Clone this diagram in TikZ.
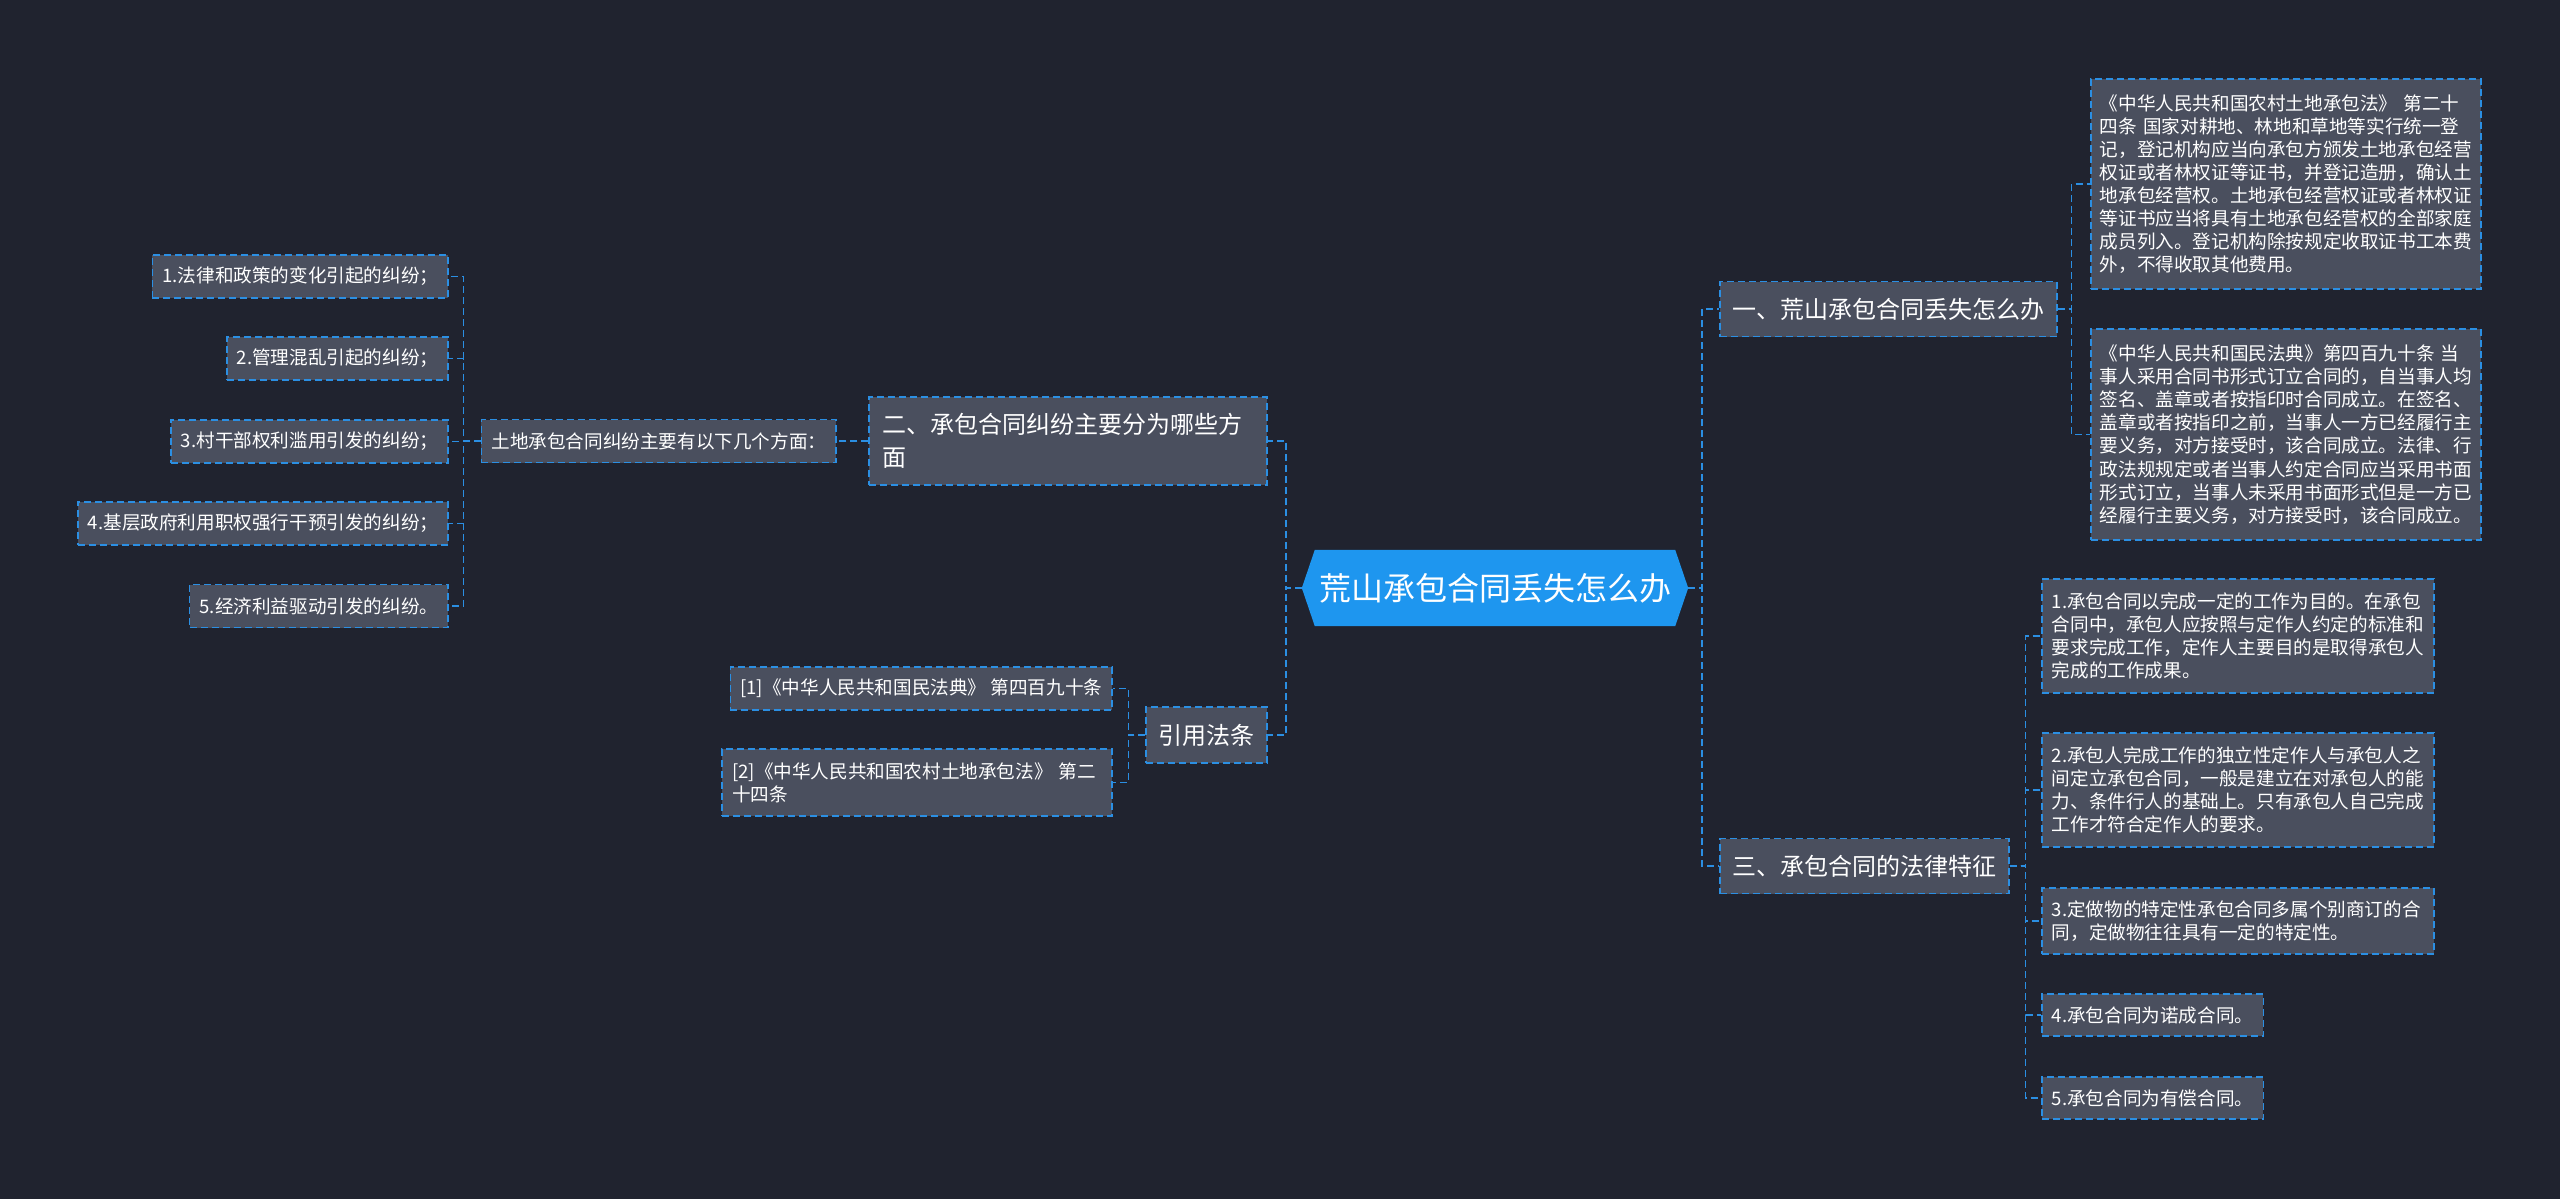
\documentclass[tikz,border=0pt]{standalone}
\usepackage{fontspec}
\setmainfont{Noto Sans CJK SC}
\usetikzlibrary{backgrounds}
\definecolor{bgcol}{HTML}{20232F}
\definecolor{boxcol}{HTML}{4A4F5E}
\definecolor{linecol}{HTML}{2B8FE3}
\definecolor{rootcol}{HTML}{1E96EF}
\newcommand{\fsz}[2]{\fontsize{#1}{#2}\selectfont}
\tikzset{
  link/.style={draw=linecol, line width=1.6pt, dash pattern=on 7pt off 4pt},
  topic/.style={link, fill=boxcol, text=white, font=\fsz{24}{33}, inner xsep=12.5pt, inner ysep=0pt, minimum height=55pt, align=left},
  leaf/.style={link, fill=boxcol, text=white, font=\fsz{18.6}{23.1}, inner xsep=10pt, inner ysep=0pt, minimum height=43pt, align=left},
  root/.style={text=white, font=\fsz{32}{38}, minimum width=386pt, minimum height=76pt, inner sep=0pt},
}
\begin{document}
\begin{tikzpicture}[x=1pt, y=-1pt]
  \useasboundingbox (0,0) rectangle (2560,1199);
  \begin{scope}[on background layer]
    \fill[bgcol] (0,0) rectangle (2560,1199);
  \end{scope}

  \node[root] (root) at (1495,588) {荒山承包合同丢失怎么办};
  \begin{scope}[on background layer]
    \fill[rootcol] (root.west) -- ([xshift=13pt]root.north west) -- ([xshift=-13pt]root.north east)
      -- (root.east) -- ([xshift=-13pt]root.south east) -- ([xshift=13pt]root.south west) -- cycle;
  \end{scope}

  % right side
  \node[topic, anchor=west] (a1) at (1719,309) {一、荒山承包合同丢失怎么办};
  \node[topic, anchor=west] (a3) at (1719,866) {三、承包合同的法律特征};
  \node[leaf, anchor=west, text width=372pt, inner xsep=9pt, minimum height=210pt] (law1) at (2090,184)
    {《中华人民共和国农村土地承包法》 第二十\\四条 国家对耕地、林地和草地等实行统一登\\记，登记机构应当向承包方颁发土地承包经营\\权证或者林权证等证书，并登记造册，确认土\\地承包经营权。土地承包经营权证或者林权证\\等证书应当将具有土地承包经营权的全部家庭\\成员列入。登记机构除按规定收取证书工本费\\外，不得收取其他费用。};
  \node[leaf, anchor=west, text width=372pt, inner xsep=9pt, minimum height=211pt] (law2) at (2090,434.5)
    {《中华人民共和国民法典》第四百九十条 当\\事人采用合同书形式订立合同的，自当事人均\\签名、盖章或者按指印时合同成立。在签名、\\盖章或者按指印之前，当事人一方已经履行主\\要义务，对方接受时，该合同成立。法律、行\\政法规规定或者当事人约定合同应当采用书面\\形式订立，当事人未采用书面形式但是一方已\\经履行主要义务，对方接受时，该合同成立。};
  \node[leaf, anchor=west, text width=372pt, minimum height=114pt] (feat1) at (2041,636)
    {1.承包合同以完成一定的工作为目的。在承包\\合同中，承包人应按照与定作人约定的标准和\\要求完成工作，定作人主要目的是取得承包人\\完成的工作成果。};
  \node[leaf, anchor=west, text width=372pt, minimum height=114pt] (feat2) at (2041,790)
    {2.承包人完成工作的独立性定作人与承包人之\\间定立承包合同，一般是建立在对承包人的能\\力、条件行人的基础上。只有承包人自己完成\\工作才符合定作人的要求。};
  \node[leaf, anchor=west, text width=372pt, minimum height=66pt] (feat3) at (2041,921)
    {3.定做物的特定性承包合同多属个别商订的合\\同，定做物往往具有一定的特定性。};
  \node[leaf, anchor=west, minimum height=42pt] (feat4) at (2041,1015) {4.承包合同为诺成合同。};
  \node[leaf, anchor=west, minimum height=42pt] (feat5) at (2041,1098) {5.承包合同为有偿合同。};

  % left side
  \node[topic, anchor=east, text width=372pt, inner xsep=13pt, minimum height=88pt] (b2) at (1268,441)
    {二、承包合同纠纷主要分为哪些方\\面};
  \node[topic, anchor=east, minimum height=56pt] (b3) at (1268,735) {引用法条};
  \node[leaf, anchor=east] (lead) at (837,441) {土地承包合同纠纷主要有以下几个方面：};
  \node[leaf, anchor=east] (d1) at (449,276.5) {1.法律和政策的变化引起的纠纷；};
  \node[leaf, anchor=east] (d2) at (449,358.5) {2.管理混乱引起的纠纷；};
  \node[leaf, anchor=east] (d3) at (449,441.5) {3.村干部权利滥用引发的纠纷；};
  \node[leaf, anchor=east] (d4) at (449,523.5) {4.基层政府利用职权强行干预引发的纠纷；};
  \node[leaf, anchor=east] (d5) at (449,606) {5.经济利益驱动引发的纠纷。};
  \node[leaf, anchor=east] (ref1) at (1113,688.5) {[1]《中华人民共和国民法典》 第四百九十条};
  \node[leaf, anchor=east, text width=370pt, minimum height=67pt] (ref2) at (1113,782.5)
    {[2]《中华人民共和国农村土地承包法》 第二\\十四条};

  % connectors
  \foreach \n in {a1,a3} \draw[link] (root.east) -- ++(14,0) |- (\n.west);
  \foreach \n in {b2,b3} \draw[link] (root.west) -- ++(-16,0) |- (\n.east);
  \foreach \n in {law1,law2} \draw[link] (a1.east) -- ++(14,0) |- (\n.west);
  \foreach \n in {feat1,feat2,feat3,feat4,feat5} \draw[link] (a3.east) -- ++(16,0) |- (\n.west);
  \draw[link] (b2.west) -- (lead.east);
  \foreach \n in {d1,d2,d3,d4,d5} \draw[link] (lead.west) -- ++(-17,0) |- (\n.east);
  \foreach \n in {ref1,ref2} \draw[link] (b3.west) -- ++(-17,0) |- (\n.east);
\end{tikzpicture}
\end{document}
